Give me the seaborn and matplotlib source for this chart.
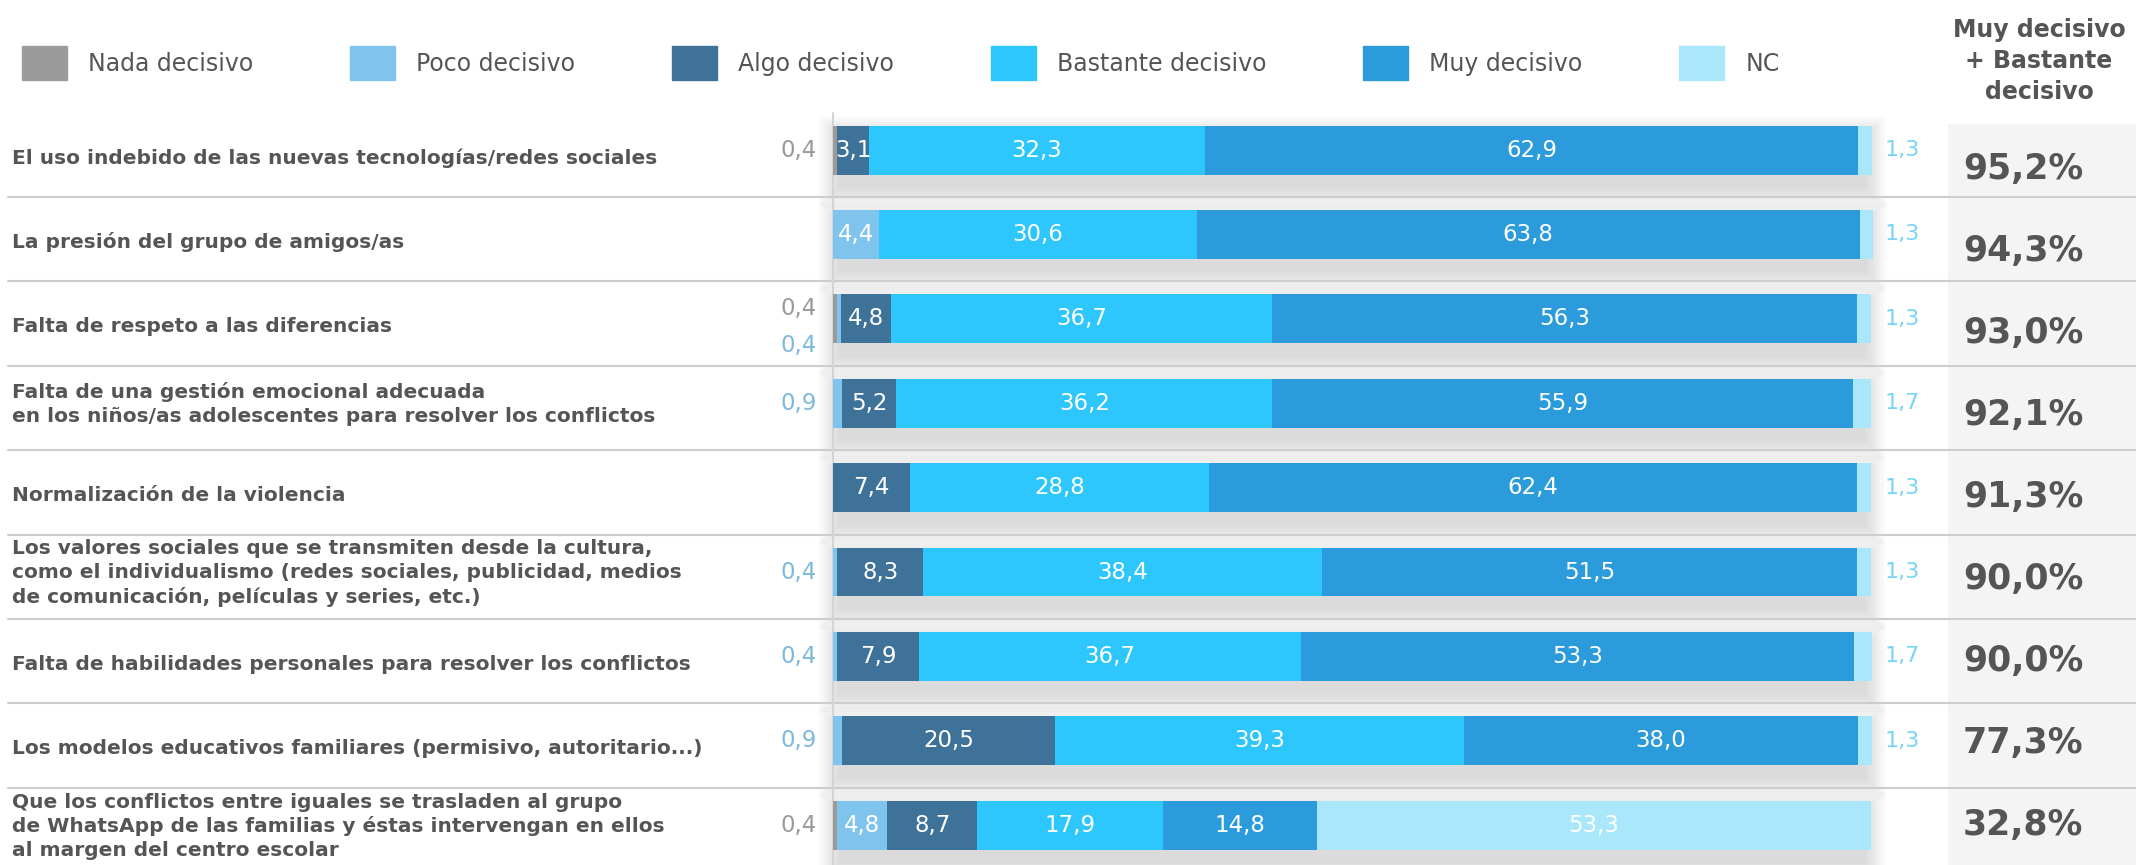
import numpy as np
import pandas as pd
import matplotlib
matplotlib.use("Agg")
import matplotlib.pyplot as plt
from matplotlib.patches import Rectangle, Patch
import seaborn as sns

# --- Data ---
CATEGORIES = [
    "El uso indebido de las nuevas tecnologías/redes sociales",
    "La presión del grupo de amigos/as",
    "Falta de respeto a las diferencias",
    "Falta de una gestión emocional adecuada\nen los niños/as adolescentes para resolver los conflictos",
    "Normalización de la violencia",
    "Los valores sociales que se transmiten desde la cultura,\ncomo el individualismo (redes sociales, publicidad, medios\nde comunicación, películas y series, etc.)",
    "Falta de habilidades personales para resolver los conflictos",
    "Los modelos educativos familiares (permisivo, autoritario...)",
    "Que los conflictos entre iguales se trasladen al grupo\nde WhatsApp de las familias y éstas intervengan en ellos\nal margen del centro escolar",
]
LEVELS = ["Nada decisivo", "Poco decisivo", "Algo decisivo",
          "Bastante decisivo", "Muy decisivo", "NC"]
NADA = [0.4, 0.0, 0.4, 0.0, 0.0, 0.0, 0.0, 0.0, 0.4]
POCO = [0.0, 4.4, 0.4, 0.9, 0.0, 0.4, 0.4, 0.9, 4.8]
ALGO = [3.1, 0.0, 4.8, 5.2, 7.4, 8.3, 7.9, 20.5, 8.7]
BASTANTE = [32.3, 30.6, 36.7, 36.2, 28.8, 38.4, 36.7, 39.3, 17.9]
MUY = [62.9, 63.8, 56.3, 55.9, 62.4, 51.5, 53.3, 38.0, 14.8]
NC = [1.3, 1.3, 1.3, 1.7, 1.3, 1.3, 1.7, 1.3, 53.3]
TOTAL_MUY_BASTANTE = [95.2, 94.3, 93.0, 92.1, 91.3, 90.0, 90.0, 77.3, 32.8]

COLORS = ["#9b9b9b", "#7fc4ec", "#3e7298", "#2ec7fd", "#2b9bdc", "#aae7fb"]
OUT_LABEL_COLORS = {0: "#9a9a9a", 1: "#7db9dd"}
NC_LABEL_COLOR = "#78d4f6"
TEXT_COLOR = "#555555"

# --- Layout (pixels of the 2136x865 canvas) ---
W, H = 2136, 865
BAR_X0, BAR_X1 = 833, 1872      # where 0 % and 100 % fall
ROW0_Y, ROW_PITCH = 150, 84.4   # centre of first row, row spacing
BAR_H = 49


def px_x(p):
    return (p - BAR_X0) / (BAR_X1 - BAR_X0) * 100


def px_y(p):
    return (p - ROW0_Y) / ROW_PITCH


def dy(p):
    return p / ROW_PITCH


def dx(p):
    return p / (BAR_X1 - BAR_X0) * 100


def fmt(v):
    return f"{v:.1f}".replace(".", ",")


def main():
    sns.set_style("white")
    plt.rcParams["font.family"] = ["DejaVu Sans"]

    fig = plt.figure(figsize=(W / 100, H / 100), dpi=100)
    ax = fig.add_axes([0, 0, 1, 1])

    series = np.array([NADA, POCO, ALGO, BASTANTE, MUY, NC])
    cum = series.cumsum(axis=0)
    n = len(CATEGORIES)

    # stacked bars: draw the longest cumulative first, shorter on top
    for j in range(len(LEVELS) - 1, -1, -1):
        sns.barplot(x=cum[j], y=CATEGORIES, color=COLORS[j], orient="h",
                    width=BAR_H / ROW_PITCH, saturation=1, linewidth=0,
                    ax=ax, zorder=3)

    ax.set_xlim(px_x(0), px_x(W))
    ax.set_ylim(px_y(H), px_y(0))
    ax.axis("off")

    # right-hand grey panel
    ax.add_patch(Rectangle((px_x(1948), px_y(124)), px_x(W) - px_x(1948),
                           px_y(H) - px_y(124), color="#f4f4f4", lw=0, zorder=0))

    # soft drop shadow under every bar
    for i in range(n):
        tot = cum[-1][i]
        for k in range(10):
            e = 2.2 * k
            ax.add_patch(Rectangle((dx(6 - e), i + dy(-14 - e)),
                                   tot - dx(12 - 2 * e), dy(52 + 2 * e),
                                   color="#959595", alpha=0.035, lw=0, zorder=1))

    # row separators and baseline
    for i in range(n - 1):
        ax.plot([px_x(8), px_x(W)], [i + dy(47)] * 2, color="#cdcdcd", lw=1.5, zorder=2)
    ax.plot([0, 0], [px_y(113), px_y(H)], color="#d4d4d4", lw=1.5, zorder=2)

    # category labels
    for i, cat in enumerate(CATEGORIES):
        off = 1 if "\n" in cat else 8
        ax.text(px_x(12), i + dy(off), cat, ha="left", va="center", fontsize=14.5,
                fontweight="bold", color=TEXT_COLOR, linespacing=1.3)

    # value labels
    for i in range(n):
        small = [j for j in (0, 1) if 0 < series[j][i] < 2]
        for j in range(len(LEVELS)):
            v = series[j][i]
            if v <= 0:
                continue
            start = cum[j][i] - v
            if j in small:
                off = 0
                if len(small) == 2:
                    off = -10 if j == 0 else 27
                ax.text(px_x(817), i + dy(off), fmt(v), ha="right", va="center",
                        fontsize=16.5, color=OUT_LABEL_COLORS[j], zorder=5)
            elif j == 5 and v < 5:
                ax.text(px_x(1885), i, fmt(v), ha="left", va="center",
                        fontsize=16, color=NC_LABEL_COLOR, zorder=5)
            else:
                ax.text(start + v / 2, i, fmt(v), ha="center", va="center",
                        fontsize=16.5, color="white", zorder=5)

    # "Muy + Bastante" column
    ax.text(px_x(2039), px_y(61), "Muy decisivo\n+ Bastante\ndecisivo",
            ha="center", va="center", fontsize=17, fontweight="bold",
            color=TEXT_COLOR, linespacing=1.38)
    for i, t in enumerate(TOTAL_MUY_BASTANTE):
        shift = 19 * (1 - i / (n - 1))
        ax.text(px_x(2023), i + dy(shift), fmt(t) + "%", ha="center", va="center",
                fontsize=25, fontweight="bold", color=TEXT_COLOR)

    # legend
    handles = [Patch(color=c, label=l) for c, l in zip(COLORS, LEVELS)]
    fig.legend(handles=handles, loc="center left", bbox_to_anchor=(22 / W, 1 - 63 / H),
               ncol=6, frameon=False, fontsize=17, labelcolor=TEXT_COLOR,
               handlelength=1.9, handleheight=1.84, handletextpad=0.9,
               columnspacing=4.1, borderpad=0, borderaxespad=0)

    fig.savefig("out.png", dpi=100)


if __name__ == "__main__":
    main()
